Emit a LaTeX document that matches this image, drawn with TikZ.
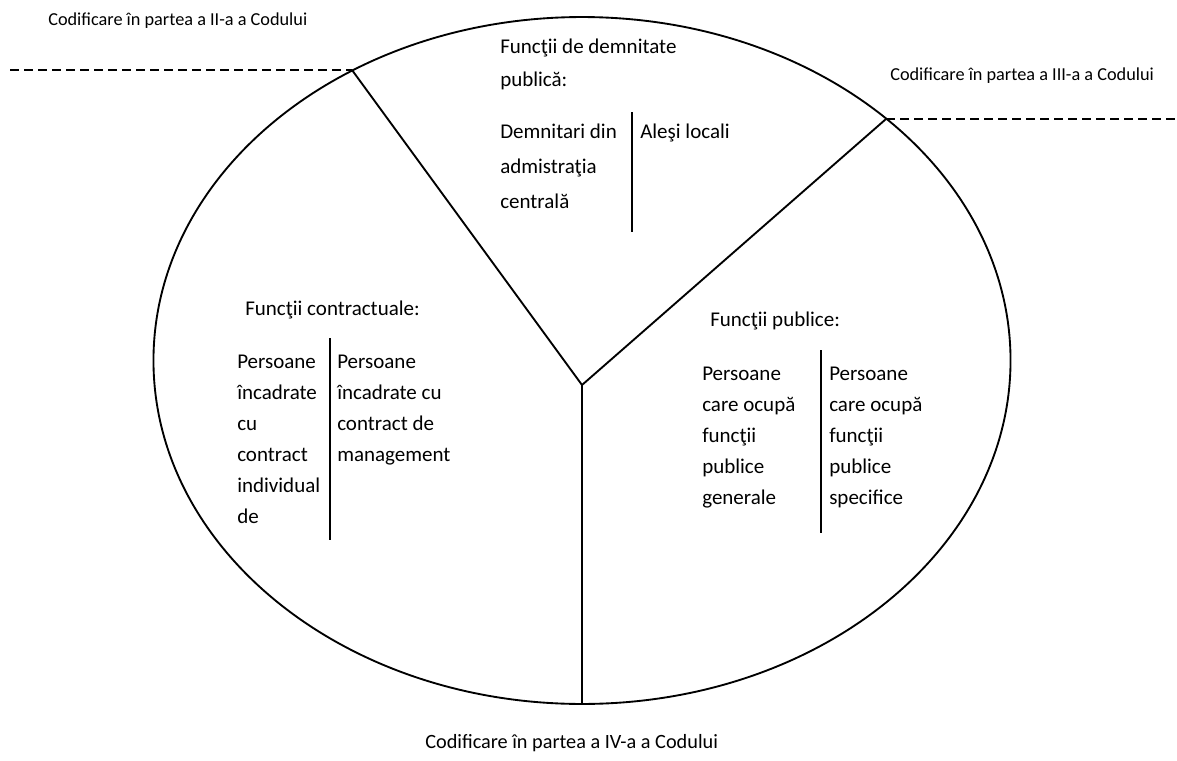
\documentclass[tikz,border=0pt]{standalone}
\usepackage{fontspec}
\setmainfont{Carlito}
\begin{document}
\begin{tikzpicture}[x=0.75pt,y=-0.75pt,
  outline/.style={line width=1.4pt},
  divider/.style={line width=1.4pt},
  limit/.style={line width=1.2pt, dash pattern=on 6.75pt off 3.75pt},
  code/.style={inner sep=0pt, anchor=base west, font=\fontsize{13.7}{16}\selectfont},
  codebig/.style={inner sep=0pt, anchor=base west, font=\fontsize{15.2}{18}\selectfont},
  head/.style={inner sep=0pt, anchor=base west, font=\fontsize{15.75}{24}\selectfont},
  col/.style={inner sep=0pt, anchor=north west, align=left, font=\fontsize{15.75}{23.25}\selectfont},
  colwide/.style={col, font=\fontsize{15.75}{26.25}\selectfont}]
\useasboundingbox (0,0) rectangle (1177,760);

% outer ellipse and the three sectors
\draw[outline] (582,360.5) ellipse [x radius=321.4pt, y radius=257.6pt];
\coordinate (hub) at (582,385);
\coordinate (pl) at (352,70);
\coordinate (pr) at (886,119);
\coordinate (pb) at (582,704);
\draw[outline] (pl) -- (hub) -- (pr);
\draw[outline] (hub) -- (pb);

% dashed limits of the code parts
\coordinate (dl) at (10,70);
\coordinate (dr) at (1175,119);
\draw[limit] (dl) -- (pl);
\draw[limit] (pr) -- (dr);

% code part labels
\node[code] (c2) at (48,26) {Codificare în partea a II-a a Codului};
\node[code] (c3) at (890,80) {Codificare în partea a III-a a Codului};
\node[codebig] (c4) at (425,748) {Codificare în partea a IV-a a Codului};

% sector: public dignity
\node[col, font=\fontsize{15.75}{24.75}\selectfont] (dem) at (500,34.3) {\rule{0pt}{14pt}Funcţii de demnitate\\publică:};
\node[colwide] (demc) at (500,119.3) {\rule{0pt}{14pt}Demnitari din\\admistraţia\\centrală};
\node[head] (ales) at (640,138) {Aleşi locali};
\coordinate (d1a) at (632,112);
\coordinate (d1b) at (632,232);
\draw[divider] (d1a) -- (d1b);

% sector: contractual positions
\node[head] (ctr) at (245,315) {Funcţii contractuale:};
\node[col] (ctrl) at (237,349.3) {\rule{0pt}{14pt}Persoane\\încadrate\\cu\\contract\\individual\\de};
\node[col] (ctrr) at (337,349.3) {\rule{0pt}{14pt}Persoane\\încadrate cu\\contract de\\management};
\coordinate (d2a) at (330,338);
\coordinate (d2b) at (330,540);
\draw[divider] (d2a) -- (d2b);

% sector: public positions
\node[head] (pub) at (710,326) {Funcţii publice:};
\node[col] (publ) at (702,361.3) {\rule{0pt}{14pt}Persoane\\care ocupă\\funcţii\\publice\\generale};
\node[col] (pubr) at (829,361.3) {\rule{0pt}{14pt}Persoane\\care ocupă\\funcţii\\publice\\specifice};
\coordinate (d3a) at (821,350);
\coordinate (d3b) at (821,533);
\draw[divider] (d3a) -- (d3b);
\end{tikzpicture}
\end{document}
